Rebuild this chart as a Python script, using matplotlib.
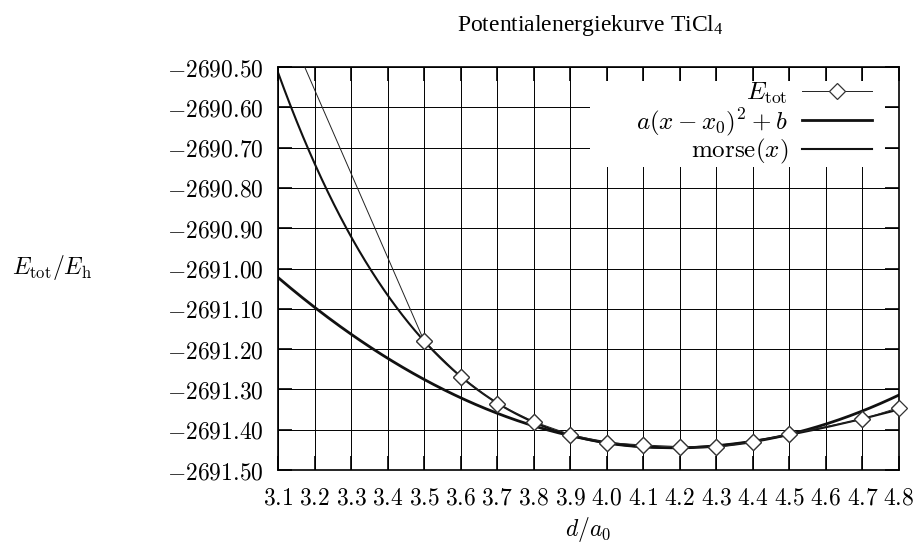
import numpy as np
import matplotlib
matplotlib.use('Agg')
import matplotlib.pyplot as plt
from matplotlib.ticker import FuncFormatter
from matplotlib.patches import Rectangle

plt.rcParams['mathtext.fontset'] = 'cm'
plt.rcParams['font.family'] = 'DejaVu Serif'

# total energy vs. Ti-Cl distance (first point lies above the plotted range)
d_tot = [3.0, 3.5, 3.6, 3.7, 3.8, 3.9, 4.0, 4.1, 4.2, 4.3, 4.4, 4.5, 4.7, 4.8]
e_tot = [-2690.14, -2691.180, -2691.268, -2691.336, -2691.380, -2691.412,
         -2691.432, -2691.438, -2691.442, -2691.444, -2691.430, -2691.411,
         -2691.374, -2691.345]

# fit parameters
par_a, par_x0, par_b = 0.3545, 4.192, -2691.445
mor_D, mor_alpha, mor_xe, mor_b = 0.715, 0.715, 4.165, -2691.445

xticks = np.arange(3.1, 4.81, 0.1)
yticks = np.arange(-2691.5, -2690.49, 0.1)
ymin, ymax = -2691.5, -2690.5

xs = np.linspace(3.1, 4.8, 300)
parab = par_a*(xs-par_x0)**2 + par_b
morse = mor_D*(1-np.exp(-mor_alpha*(xs-mor_xe)))**2 + mor_b

fig = plt.figure(figsize=(9.19, 5.56), dpi=100)
ax = fig.add_axes([278/919, 1-470/556, 621/919, 403/556])

l1, = ax.plot(d_tot, e_tot, color='#222222', lw=0.7, marker='D', ms=8,
              mfc='white', mec='#333333', mew=0.9, zorder=3)
# points inside the range are drawn unclipped (as gnuplot does at the border)
inside = [(d, e) for d, e in zip(d_tot, e_tot) if ymin <= e <= ymax]
ax.plot([p[0] for p in inside], [p[1] for p in inside], ls='none', marker='D',
        ms=8, mfc='white', mec='#333333', mew=0.9, zorder=4, clip_on=False)
l2, = ax.plot(xs, parab, color='#111111', lw=2.0, zorder=2)
l3, = ax.plot(xs, morse, color='#111111', lw=1.5, zorder=2)

ax.set_xlim(3.1, 4.8)
ax.set_ylim(ymin, ymax)
ax.set_xticks(xticks)
ax.set_yticks(yticks)
ax.xaxis.set_major_formatter(FuncFormatter(lambda v, p: r'$%.1f$' % v))
ax.yaxis.set_major_formatter(FuncFormatter(lambda v, p: r'$%.2f$' % v))
ax.tick_params(direction='in', length=10, width=1.2, top=True, right=True,
               labelsize=17)
ax.tick_params(axis='x', pad=12)
ax.tick_params(axis='y', pad=10)
for s in ax.spines.values():
    s.set_linewidth(1.2)
ax.grid(True, color='black', lw=0.7)
ax.set_axisbelow(True)

# white area behind the key
ax.add_patch(Rectangle((0.5024, 0.752), 0.9775-0.5024, 0.965-0.752,
                       transform=ax.transAxes, facecolor='white',
                       edgecolor='none', zorder=1))

ax.legend([l1, l2, l3], [r'$E_{\rm tot}$', r'$a(x-x_0)^2+b$', r'$\mathrm{morse}(x)$'],
          loc='upper right', bbox_to_anchor=(0.9565, 0.965), frameon=False,
          markerfirst=False, handlelength=2.8, handletextpad=0.55,
          labelspacing=-0.02, borderpad=0, borderaxespad=0, numpoints=1,
          fontsize=18)

fig.text(590/919, 1-25/556, r'Potentialenergiekurve TiCl$\mathregular{_4}$',
         family='Liberation Serif', fontsize=17, ha='center', va='center')
fig.text(12/919, 1-268/556, r'$E_{\rm tot}/E_{\rm h}$', fontsize=17,
         ha='left', va='center')
fig.text(588.5/919, 1-530/556, r'$d/a_0$', fontsize=17, ha='center', va='center')

fig.savefig('out.png', dpi=100)
